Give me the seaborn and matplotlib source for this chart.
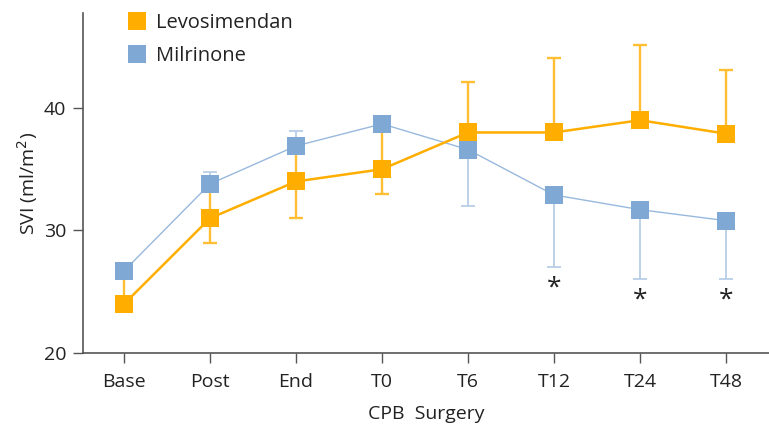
import numpy as np
import pandas as pd
import seaborn as sns
import matplotlib
matplotlib.use("Agg")
import matplotlib.pyplot as plt
from matplotlib.lines import Line2D

# Time points
categories = ["Base", "Post", "End", "T0", "T6", "T12", "T24", "T48"]

# Mean SVI (ml/m2) per group
levosimendan = [24.0, 31.0, 34.0, 35.0, 38.0, 38.0, 39.0, 37.9]
milrinone = [26.7, 33.8, 36.9, 38.7, 36.6, 32.9, 31.7, 30.8]

# One-sided error bar ends (NaN = not drawn)
levo_upper = [26.7, 33.8, 36.9, 38.7, 42.1, 44.1, 45.1, 43.1]
levo_lower = [np.nan, 29.0, 31.0, 33.0, np.nan, np.nan, np.nan, np.nan]
milr_upper = [np.nan, 34.8, 38.1, np.nan, np.nan, np.nan, np.nan, np.nan]
milr_lower = [np.nan, np.nan, np.nan, np.nan, 32.0, 27.0, 26.0, 26.0]

# Significant differences at these time points
significant = ["T12", "T24", "T48"]

ORANGE = "#FFAE00"
ORANGE_ERR = "#FFBE33"
BLUE = "#80A8D4"
BLUE_LINE = "#98B9DD"
BLUE_ERR = "#B7CEE8"

sns.set_theme(style="white")
plt.rcParams["font.family"] = ["Open Sans", "DejaVu Sans"]

fig = plt.figure(figsize=(7.69, 4.26), dpi=100)
ax = fig.add_axes([83 / 769, 1 - 353 / 426, 1 - 83 / 769, (353 - 13) / 426])

pos = np.arange(len(categories))
df = pd.DataFrame({
    "pos": np.concatenate([pos, pos]),
    "SVI": levosimendan + milrinone,
    "group": ["Levosimendan"] * len(pos) + ["Milrinone"] * len(pos),
})


def draw_err(vals, ends, color, lw, z):
    vals = np.asarray(vals, float)
    ends = np.asarray(ends, float)
    m = ~np.isnan(ends)
    diff = ends[m] - vals[m]
    up = np.where(diff > 0, diff, 0)
    dn = np.where(diff < 0, -diff, 0)
    ax.errorbar(pos[m], vals[m], yerr=[dn, up], fmt="none", ecolor=color,
                elinewidth=lw, capsize=5, capthick=lw, zorder=z)


draw_err(levosimendan, levo_upper, ORANGE_ERR, 1.7, 1)
draw_err(levosimendan, levo_lower, ORANGE_ERR, 1.7, 1)
draw_err(milrinone, milr_upper, BLUE_ERR, 1.3, 2)
draw_err(milrinone, milr_lower, BLUE_ERR, 1.3, 2)

sns.lineplot(data=df[df.group == "Milrinone"], x="pos", y="SVI", ax=ax,
             color=BLUE_LINE, linewidth=1.0, marker="s", markersize=13,
             markerfacecolor=BLUE, markeredgewidth=0, zorder=3, legend=False)
sns.lineplot(data=df[df.group == "Levosimendan"], x="pos", y="SVI", ax=ax,
             color=ORANGE, linewidth=1.8, marker="s", markersize=13,
             markerfacecolor=ORANGE, markeredgewidth=0, zorder=4, legend=False)

# Significance marks just below the Milrinone error bars
for lab in significant:
    i = categories.index(lab)
    ax.text(i, milr_lower[i] - 1.7, "*", ha="center", va="center",
            fontsize=19, color="#222222")

ax.set_xlim(-0.477, 7.5)
ax.set_ylim(20, 47.75)
ax.set_xticks(pos)
ax.set_xticklabels(categories)
ax.set_yticks([20, 30, 40])
ax.set_xlabel("CPB  Surgery", fontsize=14, color="#222222", labelpad=10)
ax.set_ylabel("SVI (ml/m$^2$)", fontsize=14, color="#222222", labelpad=3)

for s in ["top", "right"]:
    ax.spines[s].set_visible(False)
for s in ["left", "bottom"]:
    ax.spines[s].set_color("#555555")
    ax.spines[s].set_linewidth(1.2)
ax.tick_params(axis="both", which="major", direction="out", length=7,
               width=1.0, color="#555555", labelsize=14,
               labelcolor="#222222", left=True, bottom=True, pad=5)
ax.tick_params(axis="x", pad=7.5)

handles = [
    Line2D([], [], linestyle="none", marker="s", markersize=13,
           markerfacecolor=ORANGE, markeredgewidth=0, label="Levosimendan"),
    Line2D([], [], linestyle="none", marker="s", markersize=13,
           markerfacecolor=BLUE, markeredgewidth=0, label="Milrinone"),
]
leg = fig.legend(handles=handles, loc="upper left",
                 bbox_to_anchor=(117 / 769, 1 - 3 / 426), frameon=False,
                 fontsize=14.5, handlelength=1.0, handletextpad=0.45,
                 labelspacing=0.65, borderpad=0)
for t in leg.get_texts():
    t.set_color("#222222")

fig.savefig("out.png", dpi=100)
